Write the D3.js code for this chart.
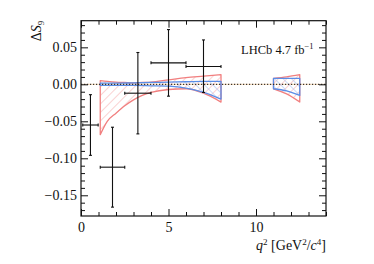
<!DOCTYPE html>
<html>
<head>
<meta charset="utf-8">
<script src="https://cdn.jsdelivr.net/npm/d3@7"></script>
<style>
  body { margin: 0; background: #fff; }
  svg text { font-family: "Liberation Serif", "DejaVu Serif", serif; fill: #111; }
</style>
</head>
<body>
<svg id="chart" width="374" height="264"></svg>
<script>
// measured points (bins in q2, value, errors)
const binLo = [0.1, 1.1, 2.5, 4.0, 6.0];
const binHi = [0.98, 2.5, 4.0, 6.0, 8.0];
const values = [-0.055, -0.112, -0.012, 0.029, 0.024];
const errUp = [0.041, 0.054, 0.055, 0.045, 0.036];
const errDn = [0.041, 0.054, 0.055, 0.045, 0.035];

// red band, low q2
const redX1 = [1.1, 1.5, 2, 2.5, 3, 3.5, 4, 5, 6, 7, 8];
const redHi1 = [0.005, 0.004, 0.003, 0.0025, 0.002, 0.0025, 0.003, 0.006, 0.009, 0.011, 0.013];
const redLo1 = [-0.068, -0.050, -0.039, -0.029, -0.021, -0.015, -0.011, -0.007, -0.006, -0.012, -0.024];
// blue band, low q2
const blueX1 = [1.1, 2, 3, 4, 5, 6, 7, 8];
const blueHi1 = [0.0015, 0.0015, 0.002, 0.0025, 0.003, 0.0035, 0.004, 0.004];
const blueLo1 = [-0.0015, -0.0015, -0.0015, -0.002, -0.0025, -0.005, -0.011, -0.020];
// high q2 bands
const x2 = [11, 11.75, 12.5];
const redHi2 = [0.008, 0.010, 0.013];
const redLo2 = [-0.006, -0.013, -0.024];
const blueHi2 = [0.008, 0.008, 0.008];
const blueLo2 = [-0.006, -0.009, -0.015];

const xMajor = [0, 5, 10];
const yMajor = [-0.15, -0.10, -0.05, 0.00, 0.05];

const mLeft = 81, mRight = 326, mTop = 20.7, mBottom = 216;
const x = d3.scaleLinear().domain([0, 14]).range([mLeft, mRight]);
const y = d3.scaleLinear().domain([-0.178, 0.086]).range([mBottom, mTop]);

const svg = d3.select("#chart");
const defs = svg.append("defs");

// hatch patterns
function hatch(id, angle, color) {
    const p = defs.append("pattern")
        .attr("id", id)
        .attr("patternUnits", "userSpaceOnUse")
        .attr("width", 6).attr("height", 6)
        .attr("patternTransform", `rotate(${angle})`);
    p.append("line")
        .attr("x1", 0).attr("y1", 0).attr("x2", 0).attr("y2", 6)
        .attr("stroke", color).attr("stroke-width", 1.2);
}
hatch("redHatch", 45, "#f6b3b3");
hatch("blueHatch", -45, "#a9c3f2");

// zero line
svg.append("line")
    .attr("x1", x(0)).attr("x2", x(14))
    .attr("y1", y(0)).attr("y2", y(0))
    .attr("stroke", "#f2b56b").attr("stroke-width", 1).attr("opacity", 0.5);

function band(xs, hi, lo, fillId, stroke) {
    const pts = xs.map((d, i) => ({ x: d, hi: hi[i], lo: lo[i] }));
    const area = d3.area()
        .x(d => x(d.x)).y0(d => y(d.lo)).y1(d => y(d.hi))
        .curve(d3.curveMonotoneX);
    svg.append("path").datum(pts)
        .attr("d", area)
        .attr("fill", `url(#${fillId})`)
        .attr("stroke", stroke).attr("stroke-width", 1.3)
        .attr("stroke-linejoin", "round");
}
band(redX1, redHi1, redLo1, "redHatch", "#f17f7f");
band(x2, redHi2, redLo2, "redHatch", "#f17f7f");
band(blueX1, blueHi1, blueLo1, "blueHatch", "#5b8de6");
band(x2, blueHi2, blueLo2, "blueHatch", "#5b8de6");

svg.append("line")
    .attr("x1", x(0)).attr("x2", x(14))
    .attr("y1", y(0)).attr("y2", y(0))
    .attr("stroke", "#111").attr("stroke-width", 1)
    .attr("stroke-dasharray", "1.2,1.8");

// data points
const pts = values.map((v, i) => ({ lo: binLo[i], hi: binHi[i], v: v, up: errUp[i], dn: errDn[i] }));
const g = svg.append("g").attr("stroke", "#111").attr("stroke-width", 1.1);
pts.forEach(d => {
    const cx = x((d.lo + d.hi) / 2);
    g.append("line").attr("x1", x(d.lo)).attr("x2", x(d.hi)).attr("y1", y(d.v)).attr("y2", y(d.v));
    g.append("line").attr("x1", cx).attr("x2", cx).attr("y1", y(d.v + d.up)).attr("y2", y(d.v - d.dn));
    // small caps
    [d.lo, d.hi].forEach(b => g.append("line")
        .attr("x1", x(b)).attr("x2", x(b)).attr("y1", y(d.v) - 1.5).attr("y2", y(d.v) + 1.5));
    [d.v + d.up, d.v - d.dn].forEach(b => g.append("line")
        .attr("x1", cx - 1.5).attr("x2", cx + 1.5).attr("y1", y(b)).attr("y2", y(b)));
});

// axes
const xMinor = d3.range(0, 15, 1).filter(v => v % 5 !== 0);
const yMinor = d3.range(-17, 9).map(v => v / 100).filter(v => Math.round(v * 100) % 5 !== 0);
const fmtY = v => (v < 0 ? "\u2212" : "") + Math.abs(v).toFixed(2);

function styleAxis(sel, labels) {
    sel.attr("font-family", "Liberation Serif, serif");
    sel.select(".domain").remove();
    sel.selectAll(".tick line").attr("stroke", "#111").attr("stroke-width", 1);
    sel.selectAll(".tick text").attr("font-size", 14).attr("fill", "#111");
    if (!labels) sel.selectAll(".tick text").remove();
}

svg.append("g").attr("transform", `translate(0,${mBottom})`)
    .call(d3.axisBottom(x).tickValues(xMajor).tickSize(-7).tickPadding(6).tickFormat(d3.format("d")))
    .call(s => styleAxis(s, true));
svg.append("g").attr("transform", `translate(0,${mBottom})`)
    .call(d3.axisBottom(x).tickValues(xMinor).tickSize(-4))
    .call(s => styleAxis(s, false));
svg.append("g").attr("transform", `translate(0,${mTop})`)
    .call(d3.axisTop(x).tickValues(xMajor).tickSize(-7))
    .call(s => styleAxis(s, false));
svg.append("g").attr("transform", `translate(0,${mTop})`)
    .call(d3.axisTop(x).tickValues(xMinor).tickSize(-4))
    .call(s => styleAxis(s, false));

svg.append("g").attr("transform", `translate(${mLeft},0)`)
    .call(d3.axisLeft(y).tickValues(yMajor).tickSize(-7).tickPadding(4).tickFormat(fmtY))
    .call(s => styleAxis(s, true));
svg.append("g").attr("transform", `translate(${mLeft},0)`)
    .call(d3.axisLeft(y).tickValues(yMinor).tickSize(-4))
    .call(s => styleAxis(s, false));
svg.append("g").attr("transform", `translate(${mRight},0)`)
    .call(d3.axisRight(y).tickValues(yMajor).tickSize(-7))
    .call(s => styleAxis(s, false));
svg.append("g").attr("transform", `translate(${mRight},0)`)
    .call(d3.axisRight(y).tickValues(yMinor).tickSize(-4))
    .call(s => styleAxis(s, false));

svg.append("rect")
    .attr("x", mLeft).attr("y", mTop).attr("width", mRight - mLeft).attr("height", mBottom - mTop)
    .attr("fill", "none").attr("stroke", "#111").attr("stroke-width", 1.2);

// labels
const xl = svg.append("text").attr("x", mRight).attr("y", 250).attr("text-anchor", "end").attr("font-size", 14);
xl.append("tspan").attr("font-style", "italic").text("q");
xl.append("tspan").attr("font-size", 9).attr("dy", -5).text("2");
xl.append("tspan").attr("dy", 5).text(" [GeV");
xl.append("tspan").attr("font-size", 9).attr("dy", -5).text("2");
xl.append("tspan").attr("dy", 5).text("/");
xl.append("tspan").attr("font-style", "italic").text("c");
xl.append("tspan").attr("font-size", 9).attr("dy", -5).text("4");
xl.append("tspan").attr("dy", 5).text("]");

const yl = svg.append("text").attr("transform", `translate(41,${mTop}) rotate(-90)`)
    .attr("text-anchor", "end").attr("font-size", 14);
yl.append("tspan").text("\u0394");
yl.append("tspan").attr("font-style", "italic").text("S");
yl.append("tspan").attr("font-size", 9).attr("dy", 3).text("9");

const lt = svg.append("text").attr("x", 241).attr("y", 53.5).attr("font-size", 12.5);
lt.append("tspan").text("LHCb 4.7 fb");
lt.append("tspan").attr("font-size", 8.5).attr("dy", -5).text("\u22121");
</script>
</body>
</html>
